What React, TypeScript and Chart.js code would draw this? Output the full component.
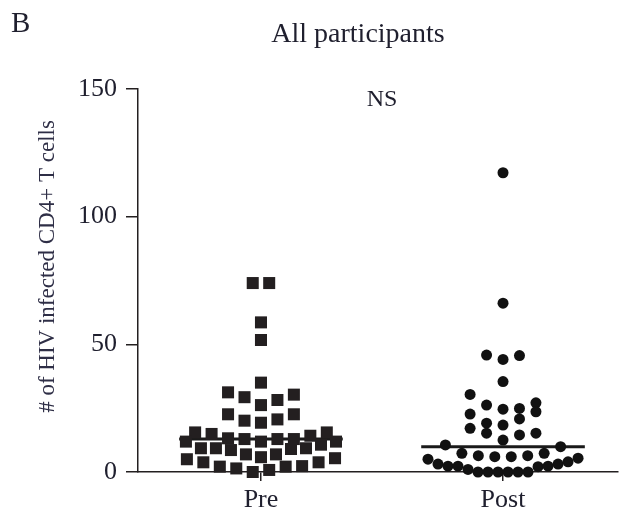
import { useEffect, useRef } from 'react';
import { Chart, registerables } from 'chart.js';

Chart.register(...registerables);

// ---- data ----
const categories = ['Pre', 'Post'];
const yTicks = [0, 50, 100, 150];
const chartTitle = 'All participants';
const panelLabel = 'B';
const significance = 'NS';
const yTitle = '# of HIV infected CD4+ T cells';

// values grouped in the rows Prism drew them in, listed left to right
const preRows: number[][] = [
  [74, 74],
  [58.6],
  [51.7],
  [35],
  [31.2, 29.3, 26.2, 28.2, 30.3],
  [22.6, 20.1, 19.3, 20.6, 22.6],
  [15.5, 14.9, 13.2, 12.9, 11.9, 12.9, 12.9, 14.2, 15.5],
  [11.9, 9.3, 9.3, 8.6, 6.9, 5.8, 6.9, 9.0, 9.3, 10.7, 11.9],
  [5.0, 3.8, 2.1, 1.4, 0, 0.8, 2.1, 2.3, 3.8, 5.4],
];

const postRows: number[][] = [
  [117.2],
  [66.1],
  [45.8, 44.1, 45.6],
  [35.4],
  [30.4, 26.2, 24.6, 24.9, 27.1],
  [22.7, 19.1, 18.4, 20.8, 23.6],
  [17.1, 15.2, 12.5, 14.5, 15.2],
  [10.6, 7.3, 6.4, 6.0, 6.0, 6.4, 7.3, 9.9],
  [5.0, 3.1, 2.3, 2.3, 1.0, 0, 0, 0, 0, 0, 0, 2.1, 2.3, 3.1, 4.0, 5.4],
];

// ---- styling ----
const FONT = '"Liberation Serif", "Times New Roman", Times, serif';
const AXIS = '#231f20';
const TEXT = '#1f1f2e';
const MEDIAN_HALF = 0.338;

function rowsToPoints(rows: number[][], cat: number) {
  const pts: { x: number; y: number }[] = [];
  rows.forEach((row) => {
    const n = row.length;
    const step = n > 1 ? Math.min(0.068, 0.62 / (n - 1)) : 0;
    row.forEach((v, i) => pts.push({ x: cat + (i - (n - 1) / 2) * step, y: v }));
  });
  return pts;
}

function median(rows: number[][]) {
  const a = rows.flat().slice().sort((p, q) => p - q);
  const m = Math.floor(a.length / 2);
  return a.length % 2 ? a[m] : (a[m - 1] + a[m]) / 2;
}

const textPlugin = {
  id: 'panelText',
  afterDraw(chart: any) {
    const ctx = chart.ctx as CanvasRenderingContext2D;
    const xs = chart.scales.x;
    const area = chart.chartArea;
    ctx.save();
    ctx.fillStyle = TEXT;
    ctx.textBaseline = 'alphabetic';
    ctx.font = `29px ${FONT}`;
    ctx.textAlign = 'left';
    ctx.fillText(panelLabel, 11, 32);
    ctx.font = `28px ${FONT}`;
    ctx.textAlign = 'center';
    ctx.fillText(chartTitle, 358, 42);
    ctx.font = `24px ${FONT}`;
    ctx.fillText(significance, xs.getPixelForValue(0.5), area.top + 17);
    ctx.fillStyle = '#2e2e46';
    ctx.font = `23px ${FONT}`;
    ctx.translate(54, 266.5);
    ctx.rotate(-Math.PI / 2);
    ctx.fillText(yTitle, 0, 0);
    ctx.restore();
  },
};

export default function App() {
  const ref = useRef<HTMLCanvasElement | null>(null);

  useEffect(() => {
    if (!ref.current) return;
    const preMed = median(preRows);
    const postMed = median(postRows);
    const chart = new Chart(ref.current, {
      type: 'scatter',
      data: {
        datasets: [
          {
            label: 'Pre median',
            data: [
              { x: 0 - MEDIAN_HALF, y: preMed },
              { x: 0 + MEDIAN_HALF, y: preMed },
            ],
            showLine: true,
            borderColor: '#1a1a1a',
            borderWidth: 3,
            pointRadius: 0,
            order: 2,
            clip: false,
          } as any,
          {
            label: 'Post median',
            data: [
              { x: 1 - MEDIAN_HALF, y: postMed },
              { x: 1 + MEDIAN_HALF, y: postMed },
            ],
            showLine: true,
            borderColor: '#1a1a1a',
            borderWidth: 3,
            pointRadius: 0,
            order: 2,
            clip: false,
          } as any,
          {
            label: categories[0],
            data: rowsToPoints(preRows, 0),
            pointStyle: 'rect',
            pointRadius: 8.5,
            pointHoverRadius: 8.5,
            backgroundColor: '#231f20',
            borderWidth: 0,
            order: 1,
            clip: false,
          } as any,
          {
            label: categories[1],
            data: rowsToPoints(postRows, 1),
            pointStyle: 'circle',
            pointRadius: 5.5,
            pointHoverRadius: 5.5,
            backgroundColor: '#111111',
            borderWidth: 0,
            order: 1,
            clip: false,
          } as any,
        ],
      },
      options: {
        responsive: false,
        animation: false,
        events: [],
        layout: { padding: { top: 89, right: 12, left: 0, bottom: 0 } },
        plugins: {
          legend: { display: false },
          tooltip: { enabled: false },
          title: { display: false },
        },
        scales: {
          x: {
            type: 'linear',
            min: -0.508,
            max: 1.475,
            afterBuildTicks: (s: any) => {
              s.ticks = categories.map((_, i) => ({ value: i }));
            },
            afterFit: (s: any) => {
              s.height = 40;
            },
            ticks: {
              callback: (v: any) => categories[v as number] ?? '',
              font: { family: FONT, size: 26 },
              color: TEXT,
              padding: 4,
              maxRotation: 0,
              autoSkip: false,
            },
            grid: {
              drawOnChartArea: false,
              drawTicks: true,
              tickLength: 9,
              color: AXIS,
              lineWidth: 1.5,
            },
            border: { display: true, color: AXIS, width: 1.5 },
          },
          y: {
            type: 'linear',
            min: 0,
            max: 150,
            afterBuildTicks: (s: any) => {
              s.ticks = yTicks.map((v) => ({ value: v }));
            },
            afterFit: (s: any) => {
              s.width = 138;
            },
            ticks: {
              font: { family: FONT, size: 26 },
              color: TEXT,
              padding: 9,
            },
            grid: {
              drawOnChartArea: false,
              drawTicks: true,
              tickLength: 12,
              color: AXIS,
              lineWidth: 1.5,
            },
            border: { display: true, color: AXIS, width: 1.5 },
          },
        },
      },
      plugins: [textPlugin],
    } as any);
    return () => chart.destroy();
  }, []);

  return (
    <div style={{ position: 'fixed', left: 0, top: 0, width: 630, height: 512, background: '#fff' }}>
      <canvas ref={ref} width={630} height={512} style={{ display: 'block' }} />
    </div>
  );
}
